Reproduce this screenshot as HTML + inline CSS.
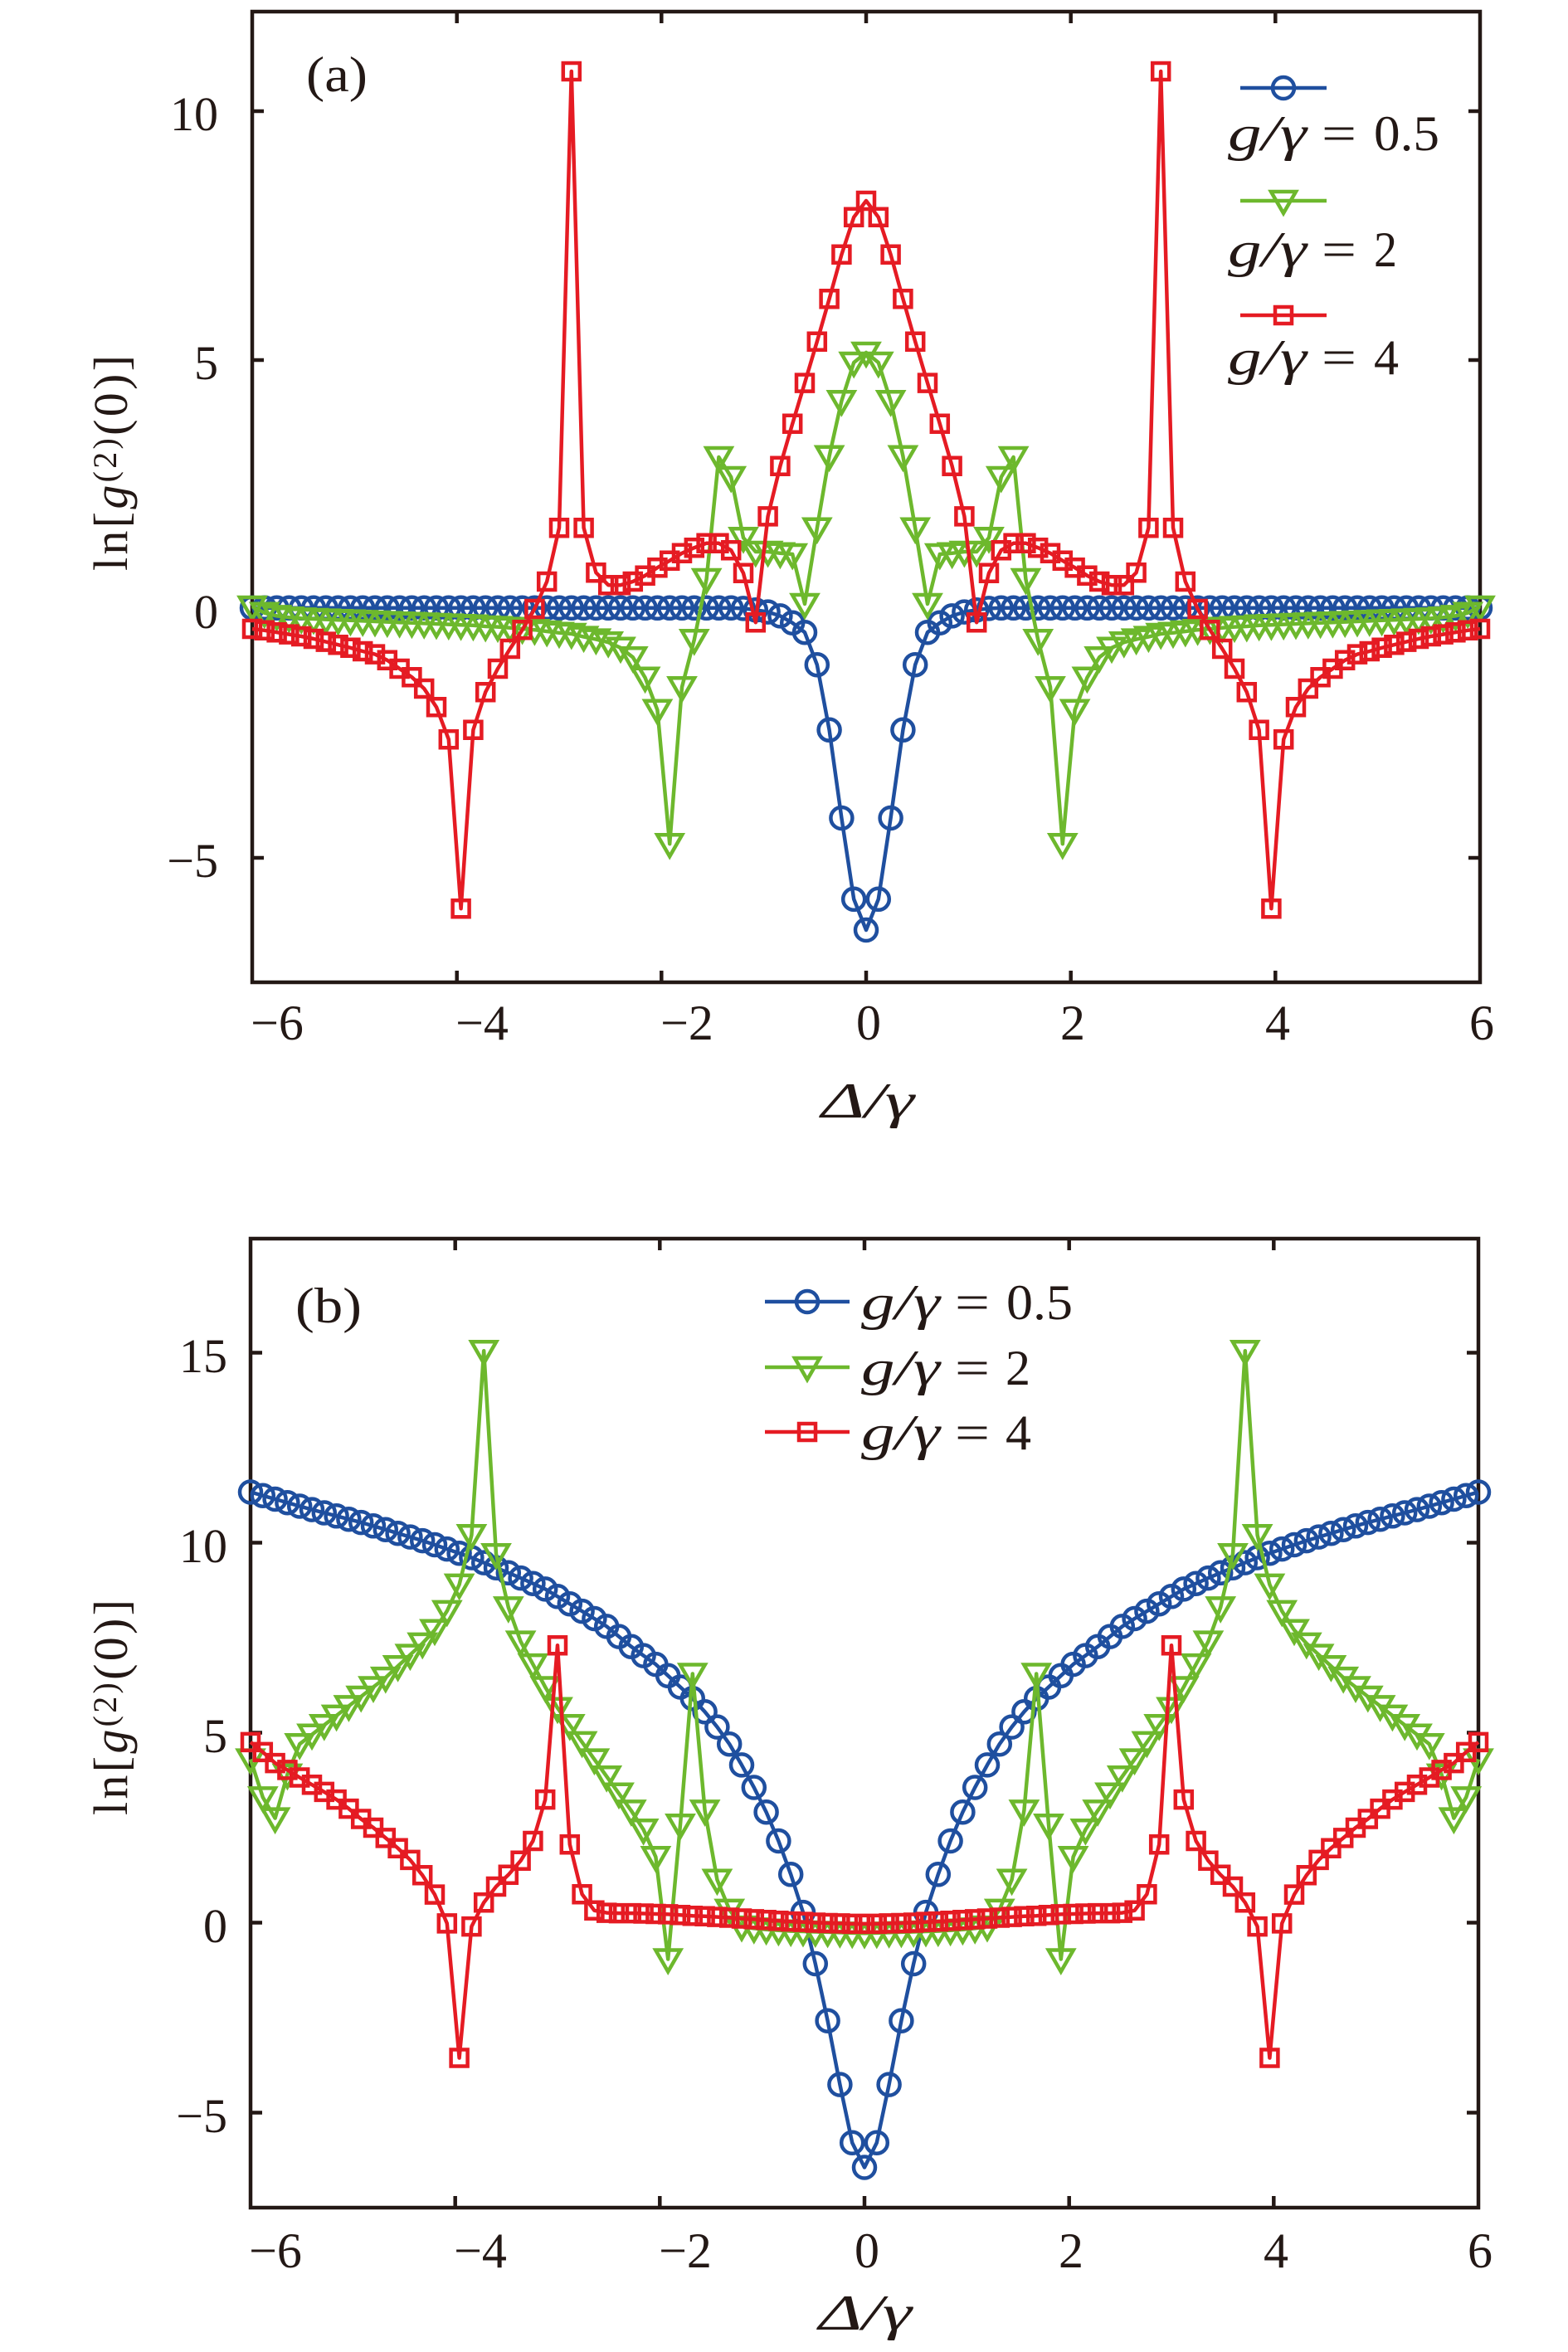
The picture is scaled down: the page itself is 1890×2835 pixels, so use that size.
<!DOCTYPE html>
<html>
<head>
<meta charset="utf-8">
<style>
html,body{margin:0;padding:0;background:#fff;}
svg{display:block;}
text{font-family:"Liberation Serif","DejaVu Serif",serif;fill:#231815;}
.it{font-style:italic;}
</style>
</head>
<body>
<svg id="s" width="1890" height="2835" viewBox="0 0 1890 2835" xmlns="http://www.w3.org/2000/svg">
<rect x="0" y="0" width="1890" height="2835" fill="#ffffff"/>

<!-- ===== Panel (a) axes ===== -->
<g stroke="#231815" stroke-width="4.5" fill="none">
  <rect x="304" y="14" width="1480" height="1170"/>
  <!-- x ticks bottom/top -->
  <path d="M550.7 1184 v-14 M797.3 1184 v-14 M1044 1184 v-14 M1290.7 1184 v-14 M1537.3 1184 v-14
           M550.7 14 v14 M797.3 14 v14 M1044 14 v14 M1290.7 14 v14 M1537.3 14 v14"/>
  <!-- y ticks left/right -->
  <path d="M304 134 h14 M304 434 h14 M304 734 h14 M304 1034 h14
           M1784 134 h-14 M1784 434 h-14 M1784 734 h-14 M1784 1034 h-14"/>
</g>
<!-- x tick labels (a) -->
<g font-size="60" text-anchor="middle">
  <text x="334" y="1253">−6</text>
  <text x="581" y="1253">−4</text>
  <text x="828" y="1253">−2</text>
  <text x="1047" y="1253">0</text>
  <text x="1293" y="1253">2</text>
  <text x="1540" y="1253">4</text>
  <text x="1786" y="1253">6</text>
</g>
<!-- y tick labels (a) -->
<g font-size="58" text-anchor="end">
  <text x="263" y="157">10</text>
  <text x="263" y="457">5</text>
  <text x="263" y="757">0</text>
  <text x="263" y="1057">−5</text>
</g>
<!-- axis labels (a) -->
<text class="it" x="990" y="1347" font-size="60" textLength="112" lengthAdjust="spacingAndGlyphs">Δ/γ</text>
<text transform="translate(153,558) rotate(-90)" font-size="58" text-anchor="middle" textLength="260" lengthAdjust="spacing">ln[<tspan class="it">g</tspan><tspan font-size="40" dy="-13">(2)</tspan><tspan dy="13">(0)]</tspan></text>
<text x="369" y="110" font-size="60" textLength="74" lengthAdjust="spacingAndGlyphs">(a)</text>

<!-- legend (a) -->
<g stroke-width="4.5" fill="none">
  <line x1="1495" y1="106" x2="1599" y2="106" stroke="#1f4f9f"/>
  <circle cx="1547" cy="106" r="13" stroke="#1f4f9f"/>
  <line x1="1495" y1="242" x2="1599" y2="242" stroke="#6db82d"/>
  <path d="M1532 231 h30 l-15 26 z" stroke="#6db82d"/>
  <line x1="1495" y1="380" x2="1599" y2="380" stroke="#e51b23"/>
  <rect x="1537" y="370" width="20" height="20" stroke="#e51b23"/>
</g>
<g font-size="60">
  <text class="it" x="1480" y="181" textLength="95" lengthAdjust="spacingAndGlyphs">g/γ</text>
  <text x="1593" y="181" textLength="42" lengthAdjust="spacingAndGlyphs">=</text>
  <text x="1656" y="181" textLength="79" lengthAdjust="spacingAndGlyphs">0.5</text>
  <text class="it" x="1480" y="321" textLength="95" lengthAdjust="spacingAndGlyphs">g/γ</text>
  <text x="1593" y="321" textLength="42" lengthAdjust="spacingAndGlyphs">=</text>
  <text x="1656" y="321" textLength="28" lengthAdjust="spacingAndGlyphs">2</text>
  <text class="it" x="1480" y="451" textLength="95" lengthAdjust="spacingAndGlyphs">g/γ</text>
  <text x="1593" y="451" textLength="42" lengthAdjust="spacingAndGlyphs">=</text>
  <text x="1656" y="451" textLength="30" lengthAdjust="spacingAndGlyphs">4</text>
</g>

<!-- ===== Panel (b) axes ===== -->
<g stroke="#231815" stroke-width="4.5" fill="none">
  <rect x="302" y="1493" width="1480" height="1168"/>
  <path d="M548.7 2661 v-14 M795.3 2661 v-14 M1042 2661 v-14 M1288.7 2661 v-14 M1535.3 2661 v-14
           M548.7 1493 v14 M795.3 1493 v14 M1042 1493 v14 M1288.7 1493 v14 M1535.3 1493 v14"/>
  <path d="M302 1630.5 h14 M302 1859.5 h14 M302 2088.5 h14 M302 2317.5 h14 M302 2546.5 h14
           M1782 1630.5 h-14 M1782 1859.5 h-14 M1782 2088.5 h-14 M1782 2317.5 h-14 M1782 2546.5 h-14"/>
</g>
<g font-size="60" text-anchor="middle">
  <text x="332" y="2733">−6</text>
  <text x="579" y="2733">−4</text>
  <text x="826" y="2733">−2</text>
  <text x="1045" y="2733">0</text>
  <text x="1291" y="2733">2</text>
  <text x="1538" y="2733">4</text>
  <text x="1784" y="2733">6</text>
</g>
<g font-size="58" text-anchor="end">
  <text x="274" y="1654">15</text>
  <text x="274" y="1883">10</text>
  <text x="274" y="2112">5</text>
  <text x="274" y="2341">0</text>
  <text x="274" y="2570">−5</text>
</g>
<text class="it" x="987" y="2808" font-size="60" textLength="112" lengthAdjust="spacingAndGlyphs">Δ/γ</text>
<text transform="translate(153,2058) rotate(-90)" font-size="58" text-anchor="middle" textLength="260" lengthAdjust="spacing">ln[<tspan class="it">g</tspan><tspan font-size="40" dy="-13">(2)</tspan><tspan dy="13">(0)]</tspan></text>
<text x="356" y="1594" font-size="60" textLength="80" lengthAdjust="spacingAndGlyphs">(b)</text>

<!-- legend (b) -->
<g stroke-width="4.5" fill="none">
  <line x1="922" y1="1569" x2="1024" y2="1569" stroke="#1f4f9f"/>
  <circle cx="973" cy="1569" r="13" stroke="#1f4f9f"/>
  <line x1="922" y1="1648" x2="1024" y2="1648" stroke="#6db82d"/>
  <path d="M958 1637 h30 l-15 26 z" stroke="#6db82d"/>
  <line x1="922" y1="1726" x2="1024" y2="1726" stroke="#e51b23"/>
  <rect x="963" y="1716" width="20" height="20" stroke="#e51b23"/>
</g>
<g font-size="60">
  <text class="it" x="1038" y="1590" textLength="95" lengthAdjust="spacingAndGlyphs">g/γ</text>
  <text x="1151" y="1590" textLength="42" lengthAdjust="spacingAndGlyphs">=</text>
  <text x="1213" y="1590" textLength="80" lengthAdjust="spacingAndGlyphs">0.5</text>
  <text class="it" x="1038" y="1669" textLength="95" lengthAdjust="spacingAndGlyphs">g/γ</text>
  <text x="1151" y="1669" textLength="42" lengthAdjust="spacingAndGlyphs">=</text>
  <text x="1212" y="1669" textLength="30" lengthAdjust="spacingAndGlyphs">2</text>
  <text class="it" x="1038" y="1747" textLength="95" lengthAdjust="spacingAndGlyphs">g/γ</text>
  <text x="1151" y="1747" textLength="42" lengthAdjust="spacingAndGlyphs">=</text>
  <text x="1212" y="1747" textLength="31" lengthAdjust="spacingAndGlyphs">4</text>
</g>

<g id="data"></g>
</svg>

<script>
(function(){
  var NS = "http://www.w3.org/2000/svg";
  var host = document.getElementById("data");
  var BLUE = "#1f4f9f", GREEN = "#6db82d", RED = "#e51b23";

  function full(half){
    var a = half.slice();
    for (var k = 49; k >= 0; k--) a.push(half[k]);
    return a;
  }
  function interp(tab, x){
    for (var i = 0; i < tab.length - 1; i++){
      if (x >= tab[i][0] && x <= tab[i+1][0]){
        var t = (x - tab[i][0]) / (tab[i+1][0] - tab[i][0]);
        return tab[i][1] + t * (tab[i+1][1] - tab[i][1]);
      }
    }
    return tab[tab.length-1][1];
  }
  function draw(vals, xL, y0, sy, color, marker){
    var pts = [], d = "";
    for (var i = 0; i < vals.length; i++){
      var D = -6 + 0.12 * i;
      var x = xL + 123.333 * (D + 6);
      var y = y0 - sy * vals[i];
      pts.push(x.toFixed(1) + "," + y.toFixed(1));
      if (marker === "o"){
        d += "M" + (x - 13).toFixed(1) + " " + y.toFixed(1) + " a13 13 0 1 0 26 0 a13 13 0 1 0 -26 0 ";
      } else if (marker === "v"){
        d += "M" + (x - 15).toFixed(1) + " " + (y - 11).toFixed(1) + " h30 l-15 26 z ";
      } else {
        d += "M" + (x - 10).toFixed(1) + " " + (y - 10).toFixed(1) + " h20 v20 h-20 z ";
      }
    }
    var g = document.createElementNS(NS, "g");
    var pl = document.createElementNS(NS, "polyline");
    pl.setAttribute("points", pts.join(" "));
    pl.setAttribute("fill", "none");
    pl.setAttribute("stroke", color);
    pl.setAttribute("stroke-width", "4.5");
    pl.setAttribute("stroke-linejoin", "round");
    g.appendChild(pl);
    var pm = document.createElementNS(NS, "path");
    pm.setAttribute("d", d);
    pm.setAttribute("fill", "none");
    pm.setAttribute("stroke", color);
    pm.setAttribute("stroke-width", "4.5");
    g.appendChild(pm);
    host.appendChild(g);
  }

  /* ---------- Panel (a) ---------- */
  var blueA = [];
  for (var k = 0; k < 40; k++) blueA.push(0.02);
  blueA = blueA.concat([0.01, -0.02, -0.06, -0.14, -0.28, -0.47, -1.12, -2.43, -4.2, -5.83, -6.45]);

  var greenA = [0.05,-0.08,-0.14,-0.17,-0.19,-0.2,-0.21,-0.22,-0.23,-0.24,-0.25,-0.26,-0.27,-0.28,-0.29,-0.3,-0.31,-0.32,-0.33,-0.35,
    -0.36,-0.38,-0.4,-0.42,-0.45,-0.48,-0.5,-0.56,-0.61,-0.67,-0.78,-0.97,-1.38,-2.03,-4.72,-1.57,-0.62,0.6,3.05,2.65,
    1.43,1.15,1.15,1.12,1.1,0.1,1.62,3.07,4.18,4.95,5.15];

  var redA = [-0.40,-0.43,-0.47,-0.51,-0.55,-0.6,-0.66,-0.72,-0.78,-0.85,-0.91,-1.03,-1.2,-1.37,-1.6,-1.97,-2.62,-6.02,-2.43,-1.67,
    -1.2,-0.8,-0.42,0.0,0.55,1.63,10.8,1.63,0.73,0.48,0.48,0.55,0.67,0.83,0.97,1.12,1.23,1.32,1.32,1.18,
    0.72,-0.27,1.86,2.87,3.72,4.54,5.37,6.23,7.12,7.87,8.2];

  draw(full(blueA), 304, 734, 60, BLUE, "o");
  draw(full(greenA), 304, 734, 60, GREEN, "v");
  draw(full(redA), 304, 734, 60, RED, "s");

  /* ---------- Panel (b) ---------- */
  var tabB = [[0,-6.44],[0.12,-5.79],[0.24,-4.26],[0.36,-2.58],[0.48,-1.08],[0.6,0.27],[0.72,1.27],[0.84,2.15],
    [0.96,2.91],[1.08,3.56],[1.2,4.15],[1.32,4.7],[1.44,5.15],[1.56,5.55],[1.68,5.9],[1.8,6.2],[1.92,6.5],
    [2.04,6.8],[2.25,7.2],[2.54,7.84],[2.83,8.31],[3.12,8.78],[3.41,9.13],[3.87,9.64],[4.28,10.02],
    [4.86,10.49],[5.44,10.9],[6.01,11.34]];
  var blueB = [];
  for (var k2 = 0; k2 <= 50; k2++){
    var D = Math.abs(-6 + 0.12 * k2);
    blueB.push(interp(tabB, D));
  }

  var greenB = [4.3,3.3,2.75,3.9,4.7,4.95,5.2,5.45,5.7,5.95,6.2,6.45,6.75,7.05,7.35,7.7,8.2,8.9,10.2,15.05,
    9.7,8.3,7.4,6.8,6.2,5.65,5.2,4.75,4.3,3.85,3.4,2.95,2.45,1.73,-0.96,2.58,6.55,2.95,1.13,0.34,
    -0.1,-0.15,-0.18,-0.2,-0.22,-0.23,-0.24,-0.25,-0.26,-0.27,-0.28];

  var redB = [4.75,4.49,4.2,4.02,3.82,3.63,3.44,3.24,3.0,2.73,2.5,2.23,1.96,1.65,1.25,0.74,-0.02,-3.56,-0.1,0.53,
    0.95,1.26,1.63,2.15,3.24,7.3,2.06,0.75,0.32,0.26,0.25,0.25,0.24,0.23,0.22,0.2,0.18,0.17,0.15,0.13,
    0.11,0.09,0.07,0.05,0.03,0.02,0.0,-0.01,-0.02,-0.03,-0.03];

  draw(full(blueB), 302, 2317.5, 45.8, BLUE, "o");
  draw(full(greenB), 302, 2317.5, 45.8, GREEN, "v");
  draw(full(redB), 302, 2317.5, 45.8, RED, "s");
})();
</script>
</body>
</html>
